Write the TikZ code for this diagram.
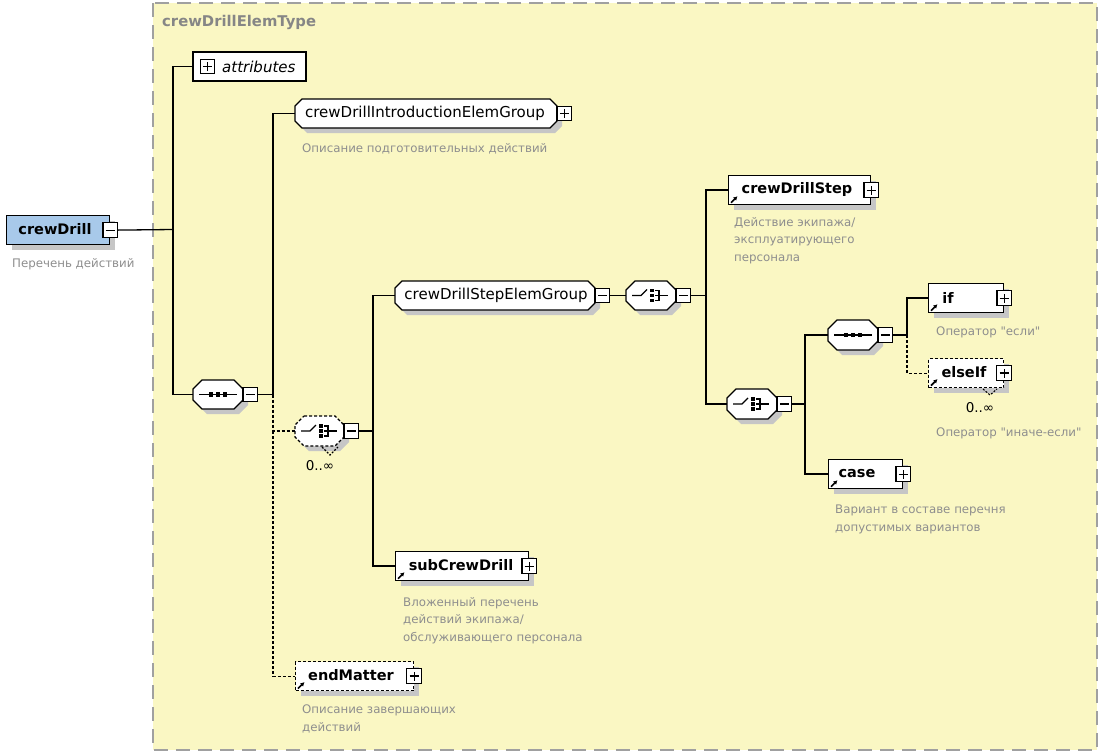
\documentclass[tikz,border=0pt]{standalone}
\usepackage{fontspec}
\setmainfont{DejaVu Sans}
\newfontfamily\plainfont{DejaVu Sans}
\usetikzlibrary{shadows,arrows.meta,calc}
\definecolor{bgyellow}{HTML}{FAF7C3}
\definecolor{elblue}{HTML}{A8C9EA}
\definecolor{desc}{HTML}{8E8E8E}
\definecolor{titlegray}{HTML}{868686}
\definecolor{shadowgray}{HTML}{C6C6C6}
\definecolor{framegray}{HTML}{A0A0A0}
\tikzset{
  conn/.style={line width=1.3pt, draw=black},
  dconn/.style={conn, line width=1.1pt, dash pattern=on 3pt off 2pt},
  shd/.style={general shadow={fill=shadowgray, shadow xshift=5pt, shadow yshift=-5pt}},
  elembox/.style={draw=black, fill=white, rectangle, inner sep=0pt, line width=1.2pt, shd, anchor=north west, minimum height=29pt},
  optbox/.style={elembox, line width=1.1pt, dash pattern=on 3pt off 2pt},
  pmbox/.style={draw=black, fill=white, rectangle, minimum size=14.5pt, inner sep=0pt, line width=1.1pt},
  minusbox/.style={pmbox, path picture={\draw[line width=1.2pt] ([xshift=-4.5pt]path picture bounding box.center) -- ([xshift=4.5pt]path picture bounding box.center);}},
  plusbox/.style={pmbox, path picture={\draw[line width=1.2pt] ([xshift=-4.5pt]path picture bounding box.center) -- ([xshift=4.5pt]path picture bounding box.center) ([yshift=-4.5pt]path picture bounding box.center) -- ([yshift=4.5pt]path picture bounding box.center);}},
  hold/.style={rectangle, inner sep=0pt, outer sep=0pt, anchor=north west},
  etext/.style={font=\bfseries\fontsize{14.5}{17}\selectfont, inner sep=0pt},
  gtext/.style={font=\fontsize{15}{17}\selectfont, inner sep=0pt},
  dtext/.style={font=\fontsize{11.8}{17.5}\selectfont, text=desc, anchor=north west, align=left, inner sep=0pt},
  occ/.style={font=\fontsize{13.5}{15}\selectfont, inner sep=0pt},
  refarr/.style={line width=1.6pt, -{Latex[length=4pt,width=4.5pt]}},
}
\newcommand\chamfshape[7]{%
  \fill[shadowgray] ({#2+#6+5},{#3+5}) -- ({#2+#4-#6+5},{#3+5}) -- ({#2+#4+5},{#3+#6+5}) -- ({#2+#4+5},{#3+#5-#6+5}) -- ({#2+#4-#6+5},{#3+#5+5}) -- ({#2+#6+5},{#3+#5+5}) -- ({#2+5},{#3+#5-#6+5}) -- ({#2+5},{#3+#6+5}) -- cycle;
  \draw[line width=1.2pt, fill=white, #7] ({#2+#6},{#3}) -- ({#2+#4-#6},{#3}) -- ({#2+#4},{#3+#6}) -- ({#2+#4},{#3+#5-#6}) -- ({#2+#4-#6},{#3+#5}) -- ({#2+#6},{#3+#5}) -- ({#2},{#3+#5-#6}) -- ({#2},{#3+#6}) -- cycle;
  \node[hold, minimum width=#4pt, minimum height=#5pt] (#1) at (#2,#3) {};
}
\newcommand\seqicon[2]{%
  \draw[line width=1.2pt] ({#1-19},#2) -- ({#1+19},#2);
  \foreach \dx in {-7,0,7} \fill ({#1+\dx-2.2},{#2-2.2}) rectangle ({#1+\dx+2.2},{#2+2.2});
}
\newcommand\choiceicon[2]{%
  \draw[line width=1.2pt] ({#1-19},#2) -- ({#1-10},#2) -- ({#1-4},{#2-6});
  \foreach \dy in {-5,0,5} \fill ({#1-1.2},{#2+\dy-1.8}) rectangle ({#1+2.6},{#2+\dy+1.8});
  \draw[line width=1.2pt] ({#1+4},{#2-5}) -- ({#1+8},{#2-5}) -- ({#1+8},{#2+5}) -- ({#1+4},{#2+5}) ({#1+4},#2) -- ({#1+17},#2);
}
\newcommand\refarrow[1]{\draw[refarr] ([xshift=3pt,yshift=2.5pt]#1.south west) -- ++(6.5,-6.5);}
\begin{document}
\begin{tikzpicture}[x=1pt,y=-1pt]
\fill[white] (0,0) rectangle (1102,755);
\useasboundingbox (0,0) rectangle (1102,755);
% container
\fill[bgyellow] (153,3) rectangle (1097,750);
\draw[framegray, line width=1.4pt, dash pattern=on 14pt off 8pt] (153,3) rectangle (1097,750);
\node[font=\bfseries\fontsize{14.8}{17}\selectfont, text=titlegray, anchor=west, inner sep=0pt] (title) at (162,22) {crewDrillElemType};

% crewDrill
\node[elembox, fill=elblue, minimum width=103pt] (cd) at (6,215) {};
\node[minusbox] (cdpm) at (cd.east) {};
\node[etext] (cdt) at (55,229.5) {crewDrill};
\node[dtext] (cdd) at (12,258) {Перечень действий};

% attributes
\node[hold, draw=black, fill=white, line width=1.2pt, minimum width=113pt, minimum height=29pt] (attr) at (193,52) {};
\node[plusbox] (attrpm) at (207.5,66.5) {};
\node[font=\itshape\fontsize{15}{17}\selectfont, anchor=west, inner sep=0pt] (attrt) at (222,66.5) {attributes};

% root sequence
\chamfshape{seq1}{193}{380}{50}{29}{9}{}
\node[minusbox] (seq1pm) at ([xshift=7.25pt]seq1.east) {};
\seqicon{218}{394.5}

% intro group
\chamfshape{intro}{295}{99}{262}{29}{7}{}
\node[plusbox] (intropm) at ([xshift=7.25pt]intro.east) {};
\node[gtext] (introt) at (425,113.5) {crewDrillIntroductionElemGroup};
\node[dtext] (introd) at (302,143) {Описание подготовительных действий};

% optional choice 0..inf
\chamfshape{ch1}{295}{416}{49}{30}{9}{line width=1.1pt, dash pattern=on 3pt off 2pt}
\node[minusbox] (ch1pm) at ([xshift=7.25pt]ch1.east) {};
\choiceicon{320}{431}
\draw[line width=1.1pt, dash pattern=on 2pt off 1.5pt] (322,447) -- (330,455) -- (338,447);
\node[occ] (ch1occ) at (320,466) {0..∞};

% step elem group
\chamfshape{sg}{395}{281}{200}{29}{7}{}
\node[minusbox] (sgpm) at ([xshift=7.25pt]sg.east) {};
\node[gtext] (sgt) at (496,295.5) {crewDrillStepElemGroup};

% choice 2
\chamfshape{ch2}{626}{281}{50}{29}{9}{}
\node[minusbox] (ch2pm) at ([xshift=7.25pt]ch2.east) {};
\choiceicon{651}{295.5}

% crewDrillStep
\node[elembox, minimum width=142pt] (step) at (728,175) {};
\node[plusbox] (steppm) at (step.east) {};
\refarrow{step}
\node[etext] (stept) at (797,189.5) {crewDrillStep};
\node[dtext] (stepd) at (734,217) {Действие экипажа/\\эксплуатирующего\\персонала};

% choice 3
\chamfshape{ch3}{727}{389}{50}{30}{9}{}
\node[minusbox] (ch3pm) at ([xshift=7.25pt]ch3.east) {};
\choiceicon{752}{404}

% sequence 2
\chamfshape{seq2}{828}{320}{50}{30}{9}{}
\node[minusbox] (seq2pm) at ([xshift=7.25pt]seq2.east) {};
\seqicon{853}{335}

% if
\node[elembox, minimum width=75pt] (ifb) at (928,283) {};
\node[plusbox] (ifpm) at (ifb.east) {};
\refarrow{ifb}
\node[etext] (ift) at (948,297.5) {if};
\node[dtext] (ifd) at (936,327) {\plainfont Оператор "если"};

% elseIf
\node[optbox, minimum width=75pt] (elif) at (928,358) {};
\node[plusbox] (elifpm) at (elif.east) {};
\refarrow{elif}
\draw[line width=1.1pt, dash pattern=on 2pt off 1.5pt] (983,389) -- (990,395) -- (997,389);
\node[etext] (elift) at (964,372.5) {elseIf};
\node[occ] (elifocc) at (980,408) {0..∞};
\node[dtext] (elifd) at (936,428) {\plainfont Оператор "иначе-если"};

% case
\node[elembox, minimum width=74pt] (case) at (828,459) {};
\node[plusbox] (casepm) at (case.east) {};
\refarrow{case}
\node[etext] (caset) at (857,473.5) {case};
\node[dtext] (cased) at (835,505) {Вариант в составе перечня\\допустимых вариантов};

% subCrewDrill
\node[elembox, minimum width=133pt] (sub) at (395,551) {};
\node[plusbox] (subpm) at (sub.east) {};
\refarrow{sub}
\node[etext] (subt) at (461,565.5) {subCrewDrill};
\node[dtext] (subd) at (403,597) {Вложенный перечень\\действий экипажа/\\обслуживающего персонала};

% endMatter
\node[optbox, minimum width=118pt] (endm) at (295,661) {};
\node[plusbox] (endmpm) at (endm.east) {};
\refarrow{endm}
\node[etext] (endmt) at (351,675.5) {endMatter};
\node[dtext] (endmd) at (302,705) {Описание завершающих\\действий};

% junctions
\coordinate (j1) at (173,229.5);
\coordinate (j2) at (273,394.5);
\coordinate (j4) at (373,431);
\coordinate (j5) at (706,295.5);
\coordinate (j6) at (805,404);
\coordinate (j7) at (907,335);

% connectors
\draw[conn] (cdpm.east) -- (j1);
\draw[conn] (attr.west) -| (j1) |- (seq1.west);
\draw[conn] (seq1pm.east) -- (j2);
\draw[conn] (j2) |- (intro.west);
\draw[dconn] (j2) -- (j2 |- ch1.west) -- (ch1.west);
\draw[dconn] (j2 |- ch1.west) |- (endm.west);
\draw[conn] (ch1pm.east) -- (j4);
\draw[conn] (sg.west) -| (j4) |- (sub.west);
\draw[conn] (sgpm.east) -- (ch2.west);
\draw[conn] (ch2pm.east) -- (j5);
\draw[conn] (step.west) -| (j5) |- (ch3.west);
\draw[conn] (ch3pm.east) -- (j6);
\draw[conn] (seq2.west) -| (j6) |- (case.west);
\draw[conn] (seq2pm.east) -- (j7);
\draw[conn] (ifb.west) -| (j7);
\draw[dconn] (j7) |- (elif.west);
\end{tikzpicture}
\end{document}
